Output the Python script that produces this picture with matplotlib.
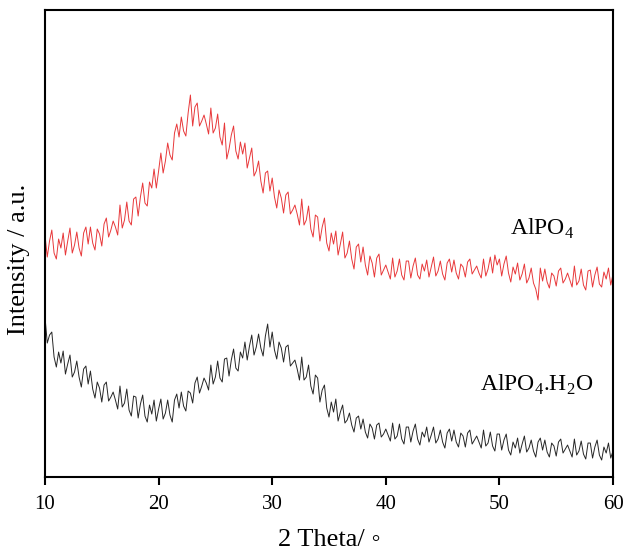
import numpy as np
import matplotlib
matplotlib.use("Agg")
import matplotlib.pyplot as plt

plt.rcParams['font.family'] = ['Liberation Serif', 'DejaVu Serif']
plt.rcParams['mathtext.fontset'] = 'custom'
plt.rcParams['mathtext.rm'] = 'Liberation Serif'

# 2-theta scan grid, 10 to 60 degrees in 0.2 degree steps
two_theta = np.linspace(10, 60, 251)

alpo4 = [
    242, 220, 236, 247, 224,
    218, 238, 229, 244, 222,
    236, 249, 224, 232, 245,
    229, 221, 244, 250, 233,
    250, 234, 227, 248, 243,
    231, 253, 259, 240, 247,
    256, 250, 242, 272, 249,
    257, 275, 256, 252, 278,
    280, 261, 280, 294, 274,
    271, 295, 289, 308, 289,
    306, 324, 304, 316, 334,
    322, 317, 344, 353, 340,
    360, 346, 341, 364, 382,
    351, 370, 374, 351, 356,
    362, 353, 343, 369, 344,
    349, 363, 340, 332, 354,
    318, 328, 342, 351, 326,
    318, 335, 323, 334, 309,
    319, 329, 301, 306, 316,
    296, 284, 304, 306, 286,
    299, 280, 269, 287, 279,
    264, 282, 285, 263, 267,
    272, 263, 252, 278, 252,
    257, 271, 248, 240, 262,
    260, 236, 250, 259, 234,
    226, 244, 233, 246, 222,
    233, 245, 219, 224, 236,
    218, 208, 230, 233, 215,
    230, 212, 202, 221, 214,
    200, 219, 223, 202, 207,
    212, 205, 198, 219, 200,
    206, 218, 202, 197, 216,
    216, 199, 211, 219, 202,
    198, 213, 206, 217, 200,
    210, 220, 201, 206, 216,
    203, 197, 214, 218, 205,
    217, 204, 198, 213, 210,
    200, 215, 218, 203, 207,
    211, 204, 199, 218, 201,
    208, 220, 204, 222, 212,
    218, 201, 213, 221, 204,
    195, 210, 203, 214, 197,
    203, 213, 194, 199, 209,
    194, 188, 177, 209, 196,
    208, 195, 189, 204, 201,
    191, 206, 209, 194, 198,
    204, 197, 190, 211, 192,
    196, 208, 192, 187, 206,
    207, 190, 202, 210, 193,
    190, 205, 198, 209, 192,
    203,
]

alpo4_h2o = [
    160, 134, 142, 145, 120,
    110, 125, 114, 126, 103,
    113, 122, 100, 105, 116,
    100, 90, 108, 111, 93,
    106, 88, 79, 95, 89,
    75, 92, 95, 76, 80,
    85, 77, 68, 91, 70,
    74, 88, 67, 61, 81,
    80, 59, 73, 82, 61,
    55, 72, 63, 77, 56,
    68, 78, 58, 64, 77,
    62, 55, 77, 83, 69,
    85, 71, 66, 86, 84,
    74, 94, 100, 84, 91,
    99, 94, 87, 112, 93,
    100, 116, 99, 95, 118,
    119, 101, 117, 128, 109,
    106, 125, 119, 135, 117,
    131, 142, 122, 130, 143,
    129, 121, 141, 153, 130,
    145, 127, 118, 135, 129,
    115, 130, 132, 111, 114,
    117, 108, 97, 120, 97,
    100, 112, 91, 83, 102,
    99, 75, 87, 92, 69,
    60, 75, 65, 78, 56,
    65, 72, 54, 57, 64,
    52, 45, 59, 61, 48,
    58, 45, 39, 53, 49,
    38, 52, 54, 40, 43,
    48, 42, 36, 54, 38,
    41, 53, 38, 33, 50,
    50, 35, 46, 53, 38,
    32, 45, 40, 50, 35,
    42, 50, 34, 38, 47,
    35, 29, 44, 48, 36,
    47, 35, 30, 44, 41,
    30, 44, 47, 33, 37,
    41, 35, 29, 47, 31,
    34, 45, 31, 26, 43,
    43, 27, 37, 43, 27,
    22, 35, 29, 39, 24,
    33, 41, 25, 29, 37,
    26, 20, 35, 39, 27,
    37, 25, 20, 34, 31,
    21, 35, 38, 24, 28,
    32, 26, 20, 38, 22,
    26, 36, 23, 18, 34,
    34, 19, 30, 37, 22,
    17, 30, 24, 34, 19,
    26,
]

xticks = [10, 20, 30, 40, 50, 60]

fig = plt.figure(figsize=(6.31, 5.56), dpi=100)
ax = fig.add_axes([0.0713, 0.142, 0.9002, 0.840])

ax.plot(two_theta, alpo4, color='#e8383a', lw=0.7)
ax.plot(two_theta, alpo4_h2o, color='#262626', lw=0.7)

ax.set_xlim(10, 60)
ax.set_ylim(0, 467)
ax.set_xticks(xticks)
ax.set_yticks([])
ax.tick_params(axis='x', direction='out', length=6, width=1.5, labelsize=15, pad=7)
for s in ax.spines.values():
    s.set_linewidth(1.5)

ax.text(50.9, 248, r'AlPO$_4$', fontsize=17, va='center', ha='left')
ax.text(48.3, 92, r'AlPO$_4$.H$_2$O', fontsize=17, va='center', ha='left')

ax.set_xlabel('2 Theta/ \u25e6', fontsize=19)
ax.xaxis.set_label_coords(0.5, -0.112)
ax.set_ylabel('Intensity / a.u.', fontsize=19)
ax.yaxis.set_label_coords(-0.026, 0.467)

fig.savefig('out.png', dpi=100)
